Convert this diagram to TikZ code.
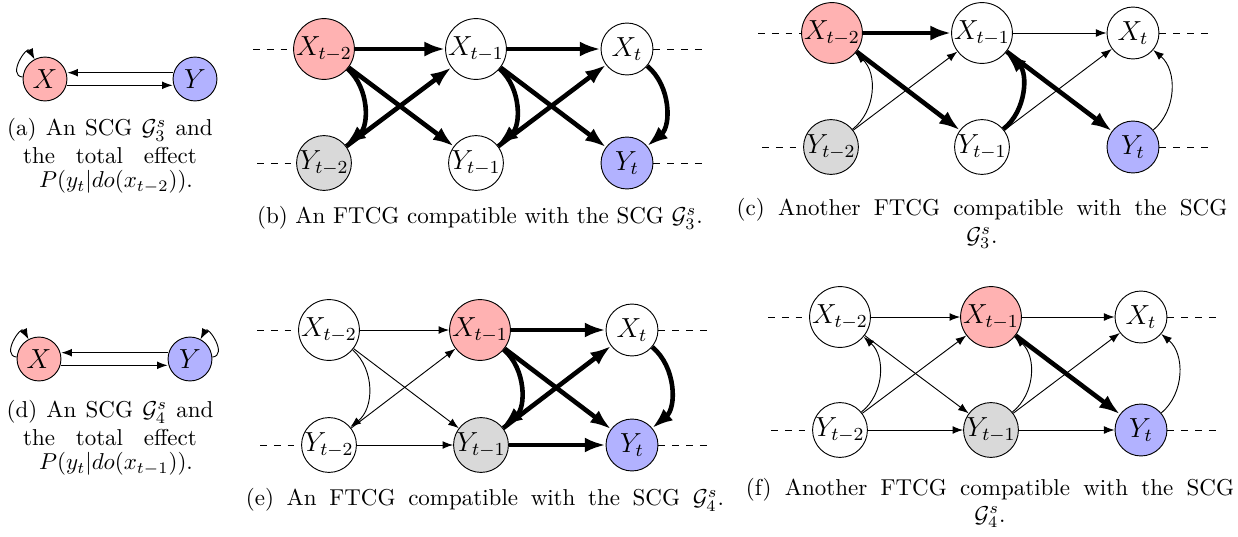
\documentclass[tikz,border=0pt]{standalone}
\usetikzlibrary{arrows.meta}
\begin{document}
\begin{tikzpicture}[x=0.435pt,y=-0.435pt,
  v/.style={circle,draw,line width=0.4pt,inner sep=0pt,minimum size=22.6pt,font=\large},
  sv/.style={circle,draw,line width=0.4pt,inner sep=0pt,minimum size=19.1pt,font=\large},
  xr/.style={fill=red!30},
  yb/.style={fill=blue!30},
  gr/.style={fill=gray!30},
  ta/.style={-{Latex[length=4.6pt,width=3.4pt]},line width=0.4pt},
  tk/.style={-{Latex[length=9pt,width=6.5pt]},line width=2pt},
  dl/.style={dashed,line width=0.4pt},
  captxt/.style={font=\normalsize,inner sep=0pt}
]
\useasboundingbox (0,0) rectangle (1238,536);

% ---------- (a)
\node[sv,xr] (aX) at (45,79) {$X$};
\node[sv,yb] (aY) at (195,79) {$Y$};
\draw[ta] ([yshift=2.75pt]aY.west) -- ([yshift=2.75pt]aX.east);
\draw[ta] ([yshift=-2.75pt]aX.east) -- ([yshift=-2.75pt]aY.west);
\draw[ta] (aX) to[out=175,in=118,min distance=7pt] (aX);
\node[captxt] (ca1) at (110,130) {\spaceskip=4pt (a) An SCG $\mathcal{G}^s_3$ and};
\node[captxt] (ca2) at (110,156) {\spaceskip=9pt the total effect};
\node[captxt] (ca3) at (116,182) {$P(y_t|do(x_{t-2}))$.};

% ---------- (d)
\node[sv,xr] (dX) at (39,359) {$X$};
\node[sv,yb] (dY) at (190,359) {$Y$};
\draw[ta] ([yshift=2.75pt]dY.west) -- ([yshift=2.75pt]dX.east);
\draw[ta] ([yshift=-2.75pt]dX.east) -- ([yshift=-2.75pt]dY.west);
\draw[ta] (dX) to[out=175,in=118,min distance=7pt] (dX);
\draw[ta] (dY) to[out=5,in=62,min distance=7pt] (dY);
\node[captxt] (cd1) at (110,412) {\spaceskip=4pt (d) An SCG $\mathcal{G}^s_4$ and};
\node[captxt] (cd2) at (110,438) {\spaceskip=9pt the total effect};
\node[captxt] (cd3) at (116,464) {$P(y_t|do(x_{t-1}))$.};

% ---------- (b)
\node[v,xr] (bX2) at (324,49) {$X_{t-2}$};
\node[v] (bX1) at (476,49) {$X_{t-1}$};
\node[v] (bX0) at (627,49) {$X_t$};
\node[v,gr] (bY2) at (324,163) {$Y_{t-2}$};
\node[v] (bY1) at (476,163) {$Y_{t-1}$};
\node[v,yb] (bY0) at (627,163) {$Y_t$};
\coordinate (bLX) at (253,49);
\coordinate (bLY) at (257,163);
\coordinate (bRX) at (703,49);
\coordinate (bRY) at (703,163);
\draw[dl] (bLX) -- (bX2);
\draw[dl] (bLY) -- (bY2);
\draw[dl] (bX0) -- (bRX);
\draw[dl] (bY0) -- (bRY);
\draw[tk] (bX2) -- (bX1);
\draw[tk] (bX1) -- (bX0);
\draw[tk] (bX2) -- (bY1);
\draw[tk] (bY2) -- (bX1);
\draw[tk] (bX1) -- (bY0);
\draw[tk] (bY1) -- (bX0);
\draw[tk] (bX2) to[bend left=50] (bY2);
\draw[tk] (bX1) to[bend left=50] (bY1);
\draw[tk] (bX0) to[bend left=50] (bY0);
\node[captxt] (cb) at (480,218) {(b) An FTCG compatible with the SCG $\mathcal{G}^s_3$.};

% ---------- (c)
\node[v,xr] (cX2) at (832,33) {$X_{t-2}$};
\node[v] (cX1) at (982,33) {$X_{t-1}$};
\node[v] (cX0) at (1133,33) {$X_t$};
\node[v,gr] (cY2) at (831,147) {$Y_{t-2}$};
\node[v] (cY1) at (982,147) {$Y_{t-1}$};
\node[v,yb] (cY0) at (1133,147) {$Y_t$};
\coordinate (cLX) at (758,33);
\coordinate (cLY) at (762,147);
\coordinate (cRX) at (1210,33);
\coordinate (cRY) at (1210,147);
\draw[dl] (cLX) -- (cX2);
\draw[dl] (cLY) -- (cY2);
\draw[dl] (cX0) -- (cRX);
\draw[dl] (cY0) -- (cRY);
\draw[tk] (cX2) -- (cX1);
\draw[ta] (cX1) -- (cX0);
\draw[tk] (cX2) -- (cY1);
\draw[ta] (cY2) -- (cX1);
\draw[tk] (cX1) -- (cY0);
\draw[ta] (cY1) -- (cX0);
\draw[ta] (cY2) to[bend right=50] (cX2);
\draw[tk] (cY1) to[bend right=50] (cX1);
\draw[ta] (cY0) to[bend right=50] (cX0);
\node[captxt] (cc1) at (982,210) {\spaceskip=5.8pt (c) Another FTCG compatible with the SCG};
\node[captxt] (cc2) at (982,238) {$\mathcal{G}^s_3$.};

% ---------- (e)
\node[v] (eX2) at (329,330) {$X_{t-2}$};
\node[v,xr] (eX1) at (480,330) {$X_{t-1}$};
\node[v] (eX0) at (632,330) {$X_t$};
\node[v] (eY2) at (329,445) {$Y_{t-2}$};
\node[v,gr] (eY1) at (481,445) {$Y_{t-1}$};
\node[v,yb] (eY0) at (632,445) {$Y_t$};
\coordinate (eLX) at (257,330);
\coordinate (eLY) at (260,445);
\coordinate (eRX) at (707,330);
\coordinate (eRY) at (707,445);
\draw[dl] (eLX) -- (eX2);
\draw[dl] (eLY) -- (eY2);
\draw[dl] (eX0) -- (eRX);
\draw[dl] (eY0) -- (eRY);
\draw[ta] (eX2) -- (eX1);
\draw[tk] (eX1) -- (eX0);
\draw[ta] (eY2) -- (eY1);
\draw[tk] (eY1) -- (eY0);
\draw[ta] (eX2) -- (eY1);
\draw[ta] (eY2) -- (eX1);
\draw[tk] (eX1) -- (eY0);
\draw[tk] (eY1) -- (eX0);
\draw[ta] (eX2) to[bend left=50] (eY2);
\draw[tk] (eX1) to[bend left=50] (eY1);
\draw[tk] (eX0) to[bend left=50] (eY0);
\node[captxt] (ce) at (485,500) {\spaceskip=5.5pt (e) An FTCG compatible with the SCG $\mathcal{G}^s_4$.};

% ---------- (f)
\node[v] (fX2) at (840,317) {$X_{t-2}$};
\node[v,xr] (fX1) at (991,317) {$X_{t-1}$};
\node[v] (fX0) at (1141,317) {$X_t$};
\node[v] (fY2) at (840,430) {$Y_{t-2}$};
\node[v,gr] (fY1) at (991,430) {$Y_{t-1}$};
\node[v,yb] (fY0) at (1141,430) {$Y_t$};
\coordinate (fLX) at (768,317);
\coordinate (fLY) at (771,430);
\coordinate (fRX) at (1218,317);
\coordinate (fRY) at (1218,430);
\draw[dl] (fLX) -- (fX2);
\draw[dl] (fLY) -- (fY2);
\draw[dl] (fX0) -- (fRX);
\draw[dl] (fY0) -- (fRY);
\draw[ta] (fX2) -- (fX1);
\draw[ta] (fX1) -- (fX0);
\draw[ta] (fY2) -- (fY1);
\draw[ta] (fY1) -- (fY0);
\draw[ta] (fX2) -- (fY1);
\draw[ta] (fY2) -- (fX1);
\draw[tk] (fX1) -- (fY0);
\draw[ta] (fY1) -- (fX0);
\draw[ta] (fY2) to[bend right=50] (fX2);
\draw[ta] (fY1) to[bend right=50] (fX1);
\draw[ta] (fY0) to[bend right=50] (fX0);
\node[captxt] (cf1) at (990,490) {\spaceskip=5.8pt (f) Another FTCG compatible with the SCG};
\node[captxt] (cf2) at (990,517) {$\mathcal{G}^s_4$.};
\end{tikzpicture}
\end{document}
